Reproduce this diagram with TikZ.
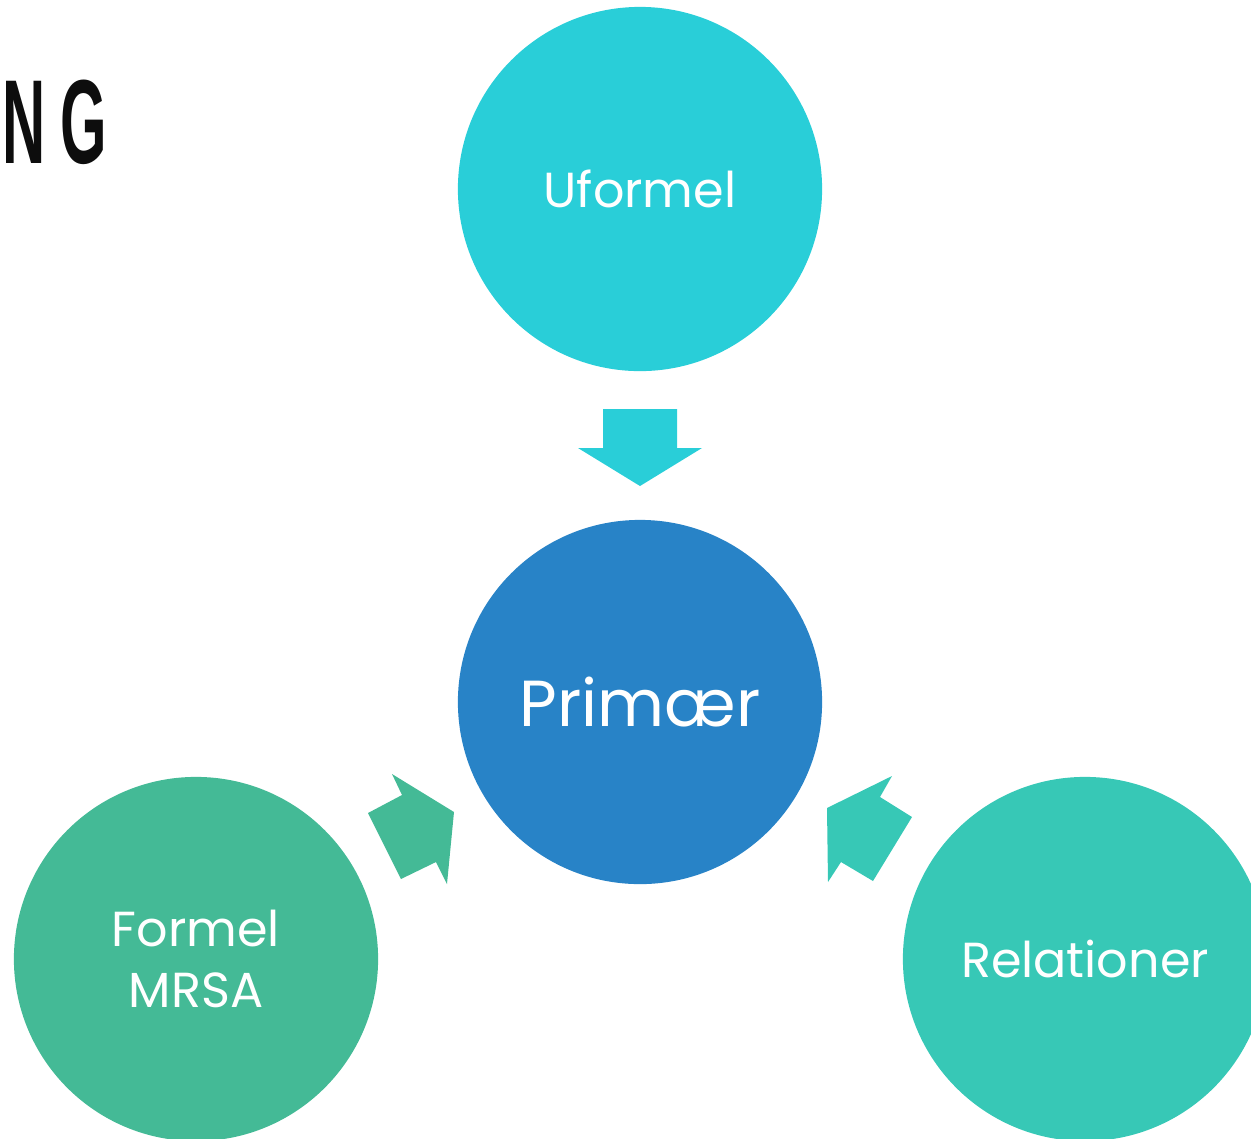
\documentclass[tikz,border=0pt]{standalone}
\usepackage{fontspec}
\setmainfont{Poppins}
\newfontfamily\headfont{Liberation Sans}
\definecolor{topc}{HTML}{29CED8}
\definecolor{midc}{HTML}{2883C7}
\definecolor{leftc}{HTML}{44BA96}
\definecolor{rightc}{HTML}{37C8B6}

\begin{document}
\begin{tikzpicture}[x=0.01cm, y=-0.01cm,
		bubble/.style={circle, minimum size=3.64cm, inner sep=0pt, text=white, align=center, font=\fontsize{14}{17.3}\selectfont}]
		\useasboundingbox (0,0) rectangle (1251,1138);
		\clip (0,0) rectangle (1251,1138);
		% circles
		\node[bubble, fill=topc] (uformel) at (640,189) {Uformel};
		\node[bubble, fill=midc, font=\fontsize{18.5}{22}\selectfont] (primaer) at (640,702) {Primær};
		\node[bubble, fill=leftc] (formel) at (196,959) {Formel\\MRSA};
		\node[bubble, fill=rightc] (relationer) at (1085,959) {Relationer};
		% arrows
		\fill[topc] (603,409) -- (677,409) -- (677,448) -- (702,448) -- (640,486) -- (578,448) -- (603,448) -- cycle;
		\fill[leftc] (454,812) -- (392,774) -- (402,795) -- (368,813) -- (401,879) -- (436,862) -- (447,884) -- cycle;
		\fill[rightc] (827,808) -- (892,776) -- (880,797) -- (912,817) -- (873,881) -- (841,862) -- (828,882) -- cycle;
		% cut off title
		\node[anchor=south west, inner sep=0pt, xscale=0.5, font=\headfont\bfseries\fontsize{34}{36}\selectfont, text=black!95] (title) at (2,165) {N\kern 0.25em G};
\end{tikzpicture}
\end{document}
